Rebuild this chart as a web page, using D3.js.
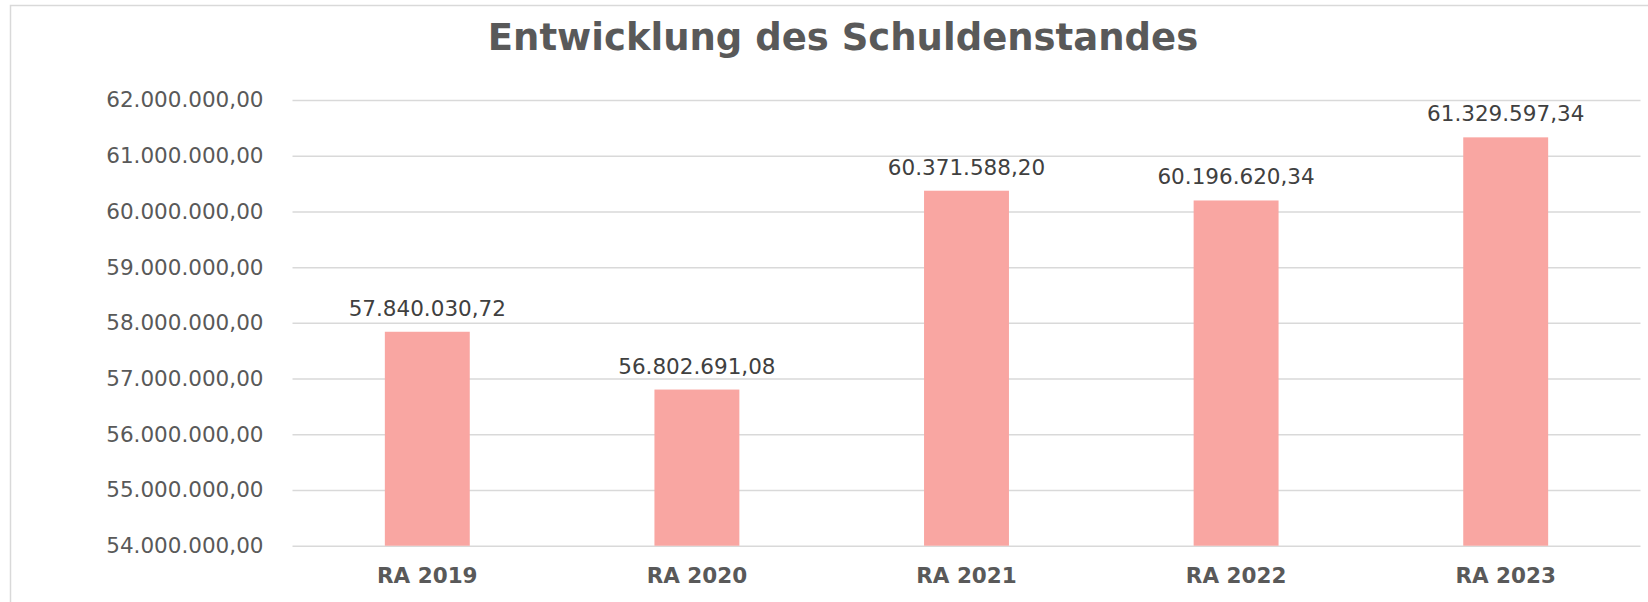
<!DOCTYPE html>
<html>
<head>
<meta charset="utf-8">
<script src="https://cdn.jsdelivr.net/npm/d3@7"></script>
<style>
  body { margin: 0; background: #fff; }
  text { font-family: 'DejaVu Sans', Verdana, sans-serif; fill: #595959; }
  .graph-title { font-size: 37px; font-weight: bold; text-anchor: middle; }
  .tick-label { font-size: 21.5px; }
  .value-label { font-size: 21.5px; fill: #404040; text-anchor: middle; }
  .cat-label { font-size: 21.5px; font-weight: bold; text-anchor: middle; }
</style>
</head>
<body>
<svg id="bar-svg"></svg>
<script>
const categories = ['RA 2019', 'RA 2020', 'RA 2021', 'RA 2022', 'RA 2023'];
const values = [57840030.72, 56802691.08, 60371588.20, 60196620.34, 61329597.34];
const yTicks = [54000000, 55000000, 56000000, 57000000, 58000000, 59000000, 60000000, 61000000, 62000000];

const width = 1648;
const height = 602;
const plot = { left: 292.5, right: 1640.5, top: 100, bottom: 545.7 };

const de = d3.formatLocale({ decimal: ',', thousands: '.', grouping: [3], currency: ['', ' €'] });
const fmt = de.format(',.2f');

const svg = d3.select('#bar-svg').attr('width', width).attr('height', height);

// Frame of the chart area (runs past the right and bottom edge)
svg.append('rect')
  .attr('x', 10.5)
  .attr('y', 5.5)
  .attr('width', 1666)
  .attr('height', 640)
  .attr('fill', '#fff')
  .attr('stroke', '#d9d9d9')
  .attr('stroke-width', 1.5);

svg.append('text')
  .attr('class', 'graph-title')
  .attr('x', 843)
  .attr('y', 50)
  .text('Entwicklung des Schuldenstandes');

const xScale = d3.scaleBand()
  .domain(categories)
  .range([plot.left, plot.right])
  .paddingInner(0.685)
  .paddingOuter(0.3425);

const yScale = d3.scaleLinear()
  .domain([d3.min(yTicks), d3.max(yTicks)])
  .range([plot.bottom, plot.top]);

// Gridlines + y labels
const yAxis = d3.axisLeft(yScale)
  .tickValues(yTicks)
  .tickSize(-(plot.right - plot.left))
  .tickPadding(29)
  .tickFormat(fmt);

const gy = svg.append('g')
  .attr('transform', 'translate(' + plot.left + ',0)')
  .call(yAxis);
gy.select('.domain').remove();
gy.selectAll('.tick line').attr('stroke', '#d9d9d9').attr('stroke-width', 1.5);
gy.selectAll('.tick text')
  .attr('class', 'tick-label')
  .attr('fill', '#595959')
  .attr('dy', '0.32em');

// Bars
svg.append('g')
  .selectAll('rect')
  .data(values)
  .join('rect')
  .attr('x', (d, i) => xScale(categories[i]))
  .attr('width', xScale.bandwidth())
  .attr('y', (d) => yScale(d))
  .attr('height', (d) => yScale(d3.min(yTicks)) - yScale(d))
  .attr('fill', '#f9a6a2');

// Value labels
svg.append('g')
  .selectAll('text')
  .data(values)
  .join('text')
  .attr('class', 'value-label')
  .attr('x', (d, i) => xScale(categories[i]) + xScale.bandwidth() / 2)
  .attr('y', (d) => yScale(d) - 16)
  .text((d) => fmt(d));

// Category labels
svg.append('g')
  .selectAll('text')
  .data(categories)
  .join('text')
  .attr('class', 'cat-label')
  .attr('x', (d) => xScale(d) + xScale.bandwidth() / 2)
  .attr('y', plot.bottom + 37.6)
  .text((d) => d);
</script>
</body>
</html>
